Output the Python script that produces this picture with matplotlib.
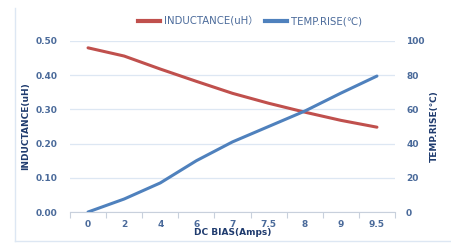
import matplotlib
matplotlib.use("Agg")
import matplotlib.pyplot as plt
from matplotlib.lines import Line2D
import numpy as np

plt.rcParams['font.family'] = ['DejaVu Sans', 'Noto Sans CJK SC']

# datos
dc_bias = ["0", "2", "4", "6", "7", "7.5", "8", "9", "9.5"]
inductance = [0.480, 0.456, 0.418, 0.382, 0.347, 0.318, 0.292, 0.268, 0.248]
temp_rise = [0, 7.6, 17, 30, 41, 50, 59, 69.5, 79.5]

red = "#c0504d"
blue = "#4f81bd"
tick_col = "#4a6a9a"
title_col = "#1f3b6e"
grid_col = "#dde7f3"

fig = plt.figure(figsize=(4.52, 2.43), dpi=100)
ax = fig.add_axes([70/452, 1-212/243, 325/452, 171/243])
ax2 = ax.twinx()

x = np.arange(len(dc_bias))
ax.plot(x, inductance, color=red, lw=2.2, solid_capstyle='round', zorder=3)
ax2.plot(x, temp_rise, color=blue, lw=2.2, solid_capstyle='round', zorder=3)

ax.set_xlim(-0.5, len(dc_bias)-0.5)
ax.set_ylim(0, 0.5)
ax2.set_ylim(0, 100)
ax.set_yticks(np.arange(0, 0.51, 0.1))
ax.set_yticklabels(["%.2f" % v for v in np.arange(0, 0.51, 0.1)])
ax2.set_yticks(range(0, 101, 20))

ax.set_xticks(x)
ax.set_xticklabels(dc_bias)
ax.set_xticks(np.arange(-0.5, len(dc_bias), 1), minor=True)
ax.tick_params(axis='x', which='major', length=0, pad=6, labelsize=6.5, colors=tick_col)
ax.tick_params(axis='x', which='minor', length=4, color="#c8d0dc", width=0.8)
ax.tick_params(axis='y', length=0, pad=9, labelsize=6.5, colors=tick_col)
ax2.tick_params(axis='y', length=0, pad=8, labelsize=6.5, colors=tick_col)
for lbl in ax.get_xticklabels() + ax.get_yticklabels() + ax2.get_yticklabels():
    lbl.set_fontweight('bold')

ax.grid(axis='y', color=grid_col, lw=0.9)
for s in ax.spines.values():
    s.set_visible(False)
for s in ax2.spines.values():
    s.set_visible(False)
ax.spines['bottom'].set_visible(True)
ax.spines['bottom'].set_color("#c8d0dc")
ax.spines['bottom'].set_linewidth(0.8)

ax.set_xlabel("DC BIAS(Amps)", fontsize=6.5, fontweight='bold', color=title_col, labelpad=-1)
ax.set_ylabel("INDUCTANCE(uH)", fontsize=6.5, fontweight='bold', color=title_col, labelpad=4)
ax2.set_ylabel("TEMP.RISE(℃)", fontsize=6.5, fontweight='bold', color=title_col, labelpad=4)

handles = [Line2D([], [], color=red, lw=3), Line2D([], [], color=blue, lw=3)]
fig.legend(handles, ["INDUCTANCE(uH）", "TEMP.RISE(℃)"], loc='center',
           bbox_to_anchor=(250/452, 1-21/243), ncol=2, frameon=False,
           fontsize=7.3, handlelength=2.2, columnspacing=0.6, handletextpad=0.4,
           labelcolor=tick_col)

# borde del cuadro
fig.add_artist(Line2D([15/452, 15/452], [1-8/243, 1-241/243], color="#dde7f3", lw=1))
fig.add_artist(Line2D([15/452, 1], [1-241/243, 1-241/243], color="#dde7f3", lw=1))

fig.savefig("out.png", dpi=100)
